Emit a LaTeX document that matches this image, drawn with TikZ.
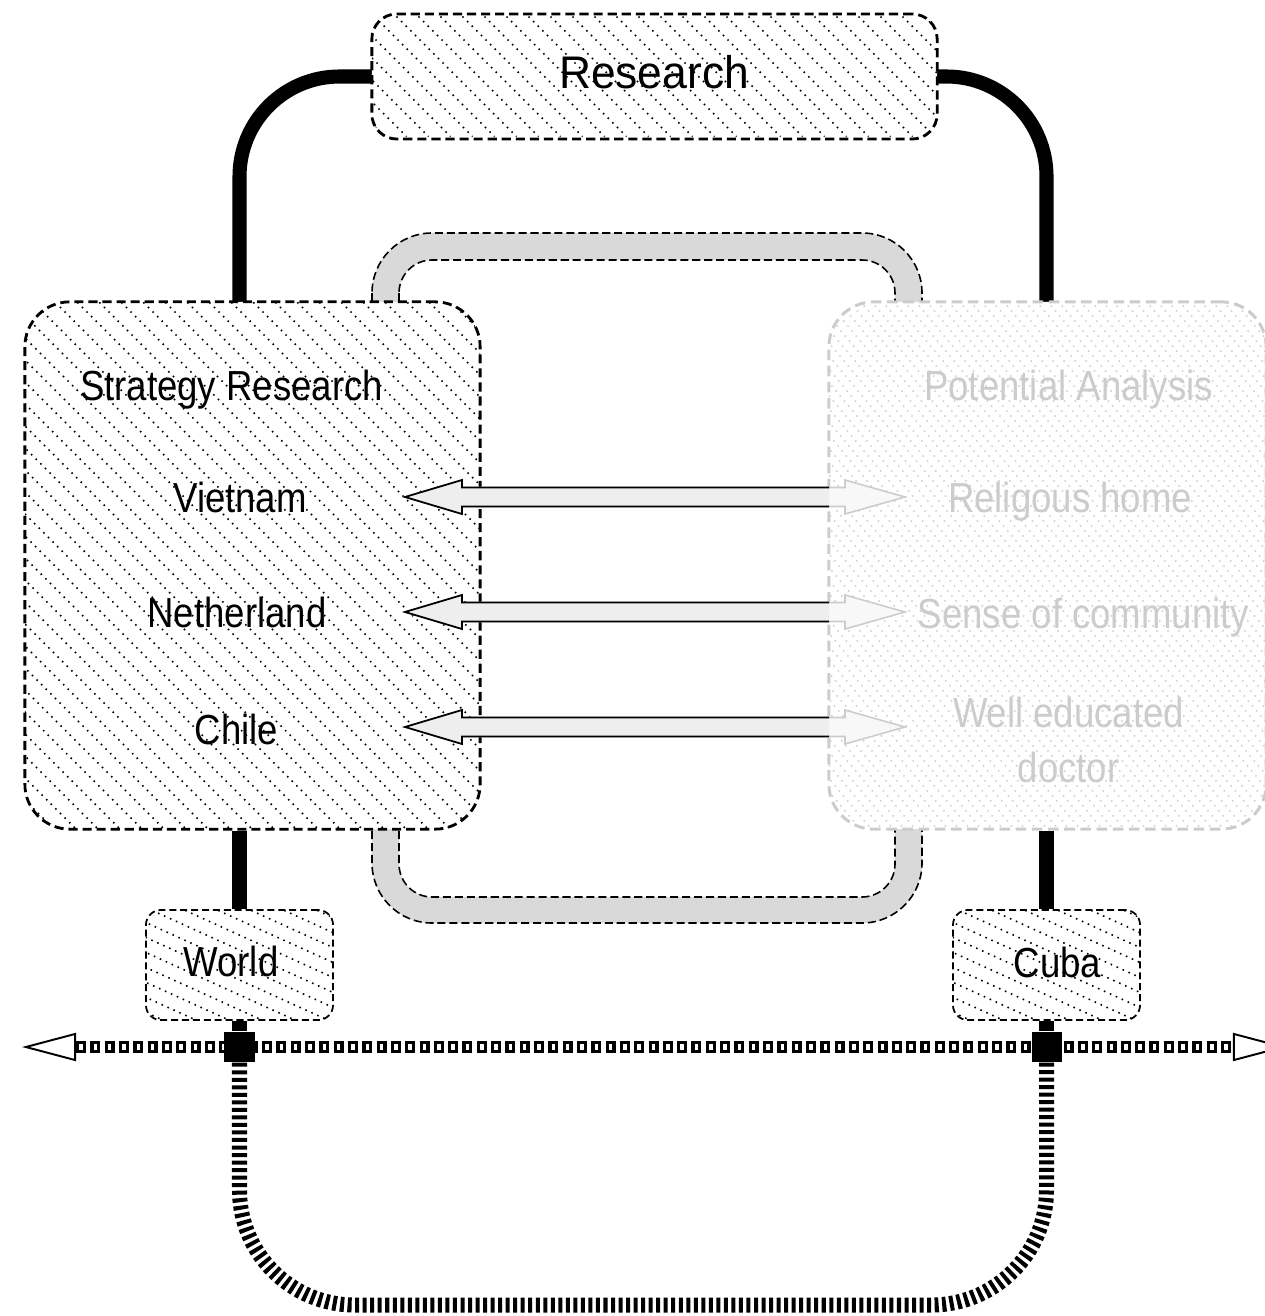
\documentclass[tikz,border=0pt]{standalone}
\usepackage{fontspec}
\setmainfont{Liberation Sans}
\newfontfamily\lblfont{Liberation Sans}[FakeStretch=0.87]
\newfontfamily\resfont{Liberation Sans}[FakeStretch=0.97]
\usetikzlibrary{arrows.meta,calc}
\definecolor{ltgray}{HTML}{CCCCCC}
\definecolor{hatchgray}{HTML}{D2D2D2}
\definecolor{bandgray}{HTML}{D9D9D9}
\definecolor{arrdark}{HTML}{EEEEEE}
\definecolor{arrlight}{HTML}{F8F8F8}
\tikzset{
  hatch/.style n args={4}{path picture={\foreach \k in {-70,...,70}{\draw[#4, line width=0.45pt, dash pattern=on 0.45pt off 1.4pt] ([shift={(\k*#1,0)}]path picture bounding box.center) ++(-#2,-#3) -- ++(2*#2,2*#3);}}},
  bigbox/.style={draw, line width=0.8pt, dash pattern=on 2.6pt off 1.4pt, fill=white, inner sep=0pt},
  smallbox/.style={draw, line width=0.5pt, dash pattern=on 2pt off 1.1pt, fill=white, inner sep=0pt, minimum width=1.87cm, minimum height=1.1cm, rounded corners=0.15cm, hatch={33}{150}{68}{black}},
  lbl/.style={font=\lblfont\fontsize{11.95pt}{15.4pt}\selectfont, inner sep=0pt, anchor=base},
  lblgray/.style={lbl, text=ltgray},
  conn/.style={line width=4pt, rounded corners=1cm},
  bandline/.style={line width=0.45pt, dash pattern=on 2.3pt off 1.1pt},
  sq/.style={fill=black, minimum size=0.3cm, inner sep=0pt},
}
\newcommand\dblarrowpath[2]{(#1) -- ($(#1)+(57,-17)$) -- ($(#1)+(57,-9.5)$) -- ($(#2)+(-60,-9.5)$) -- ($(#2)+(-60,-17)$) -- (#2) -- ($(#2)+(-60,17)$) -- ($(#2)+(-60,9.5)$) -- ($(#1)+(57,9.5)$) -- ($(#1)+(57,17)$) -- cycle}
\begin{document}
\begin{tikzpicture}[x=0.01cm,y=-0.01cm]
\useasboundingbox (0,0) rectangle (1264,1316);

% grey loop band
\fill[bandgray, even odd rule] [rounded corners=0.6cm] (372,233) rectangle (922,923) [rounded corners=0.33cm] (399,260) rectangle (895,897);
\draw[bandline] [rounded corners=0.6cm] (372,233) rectangle (922,923);
\draw[bandline] [rounded corners=0.33cm] (399,260) rectangle (895,897);

% box nodes
\node[smallbox] (world) at (239.5,965) {};
\node[smallbox] (cuba) at (1046.5,965) {};
\coordinate (stratc) at (252.5,565.5);
\coordinate (potc) at (1047.5,565.5);
\coordinate (resc) at (654.5,76.5);

% connectors (under boxes)
\draw[conn] (resc) ++(-282.5,0) coordinate (rw) -| (239.5,302) coordinate (stl);
\draw[conn] (resc) ++(282.5,0) coordinate (re) -| (1046.5,302) coordinate (ptr);

\node[bigbox, hatch={22}{60}{60}{black}, minimum width=5.65cm, minimum height=1.25cm, rounded corners=0.25cm] (research) at (resc) {};
\node[bigbox, hatch={22}{300}{300}{black}, minimum width=4.55cm, minimum height=5.27cm, rounded corners=0.45cm] (strat) at (stratc) {};
\node[bigbox, draw=ltgray, line width=0.85pt, dash pattern=on 3pt off 1.6pt, hatch={11}{250}{300}{hatchgray}, minimum width=4.37cm, minimum height=5.27cm, rounded corners=0.45cm] (pot) at (potc) {};

\draw[line width=4pt] (strat.south -| world.north) -- (world.north);
\draw[line width=4pt] (pot.south -| cuba.north) -- (cuba.north);

% double block arrows
\foreach \r/\yy in {1/497,2/612,3/727}{
  \coordinate (aL\r) at (405,\yy);
  \coordinate (aR\r) at (905,\yy);
}
\foreach \r in {1,2,3}{
  \filldraw[fill=arrlight, draw=ltgray, line width=0.45pt] \dblarrowpath{aL\r}{aR\r};
}
\begin{scope}
  \clip (0,0) rectangle (829,1316);
  \foreach \r in {1,2,3}{
    \filldraw[fill=arrdark, draw=black, line width=0.5pt] \dblarrowpath{aL\r}{aR\r};
  }
\end{scope}

% horizontal axis
\coordinate (axL) at (22,1047);
\coordinate (axLb) at (76,1047);
\coordinate (axRb) at (1233,1047);
\coordinate (axR) at (1287,1047);
\draw[line width=3.41pt, dash pattern=on 2.85pt off 1.22pt] (axLb) -- (axRb);
\draw[white, line width=1.71pt, dash pattern=on 1pt off 3.07pt, dash phase=3.14pt] (axLb) -- (axRb);
\draw[line width=0.55pt, -{Triangle[open, length=0.54cm, width=0.28cm]}] (axLb) -- (axL);
\draw[line width=0.55pt, -{Triangle[open, length=0.54cm, width=0.28cm]}] (axRb) -- (axR);

\node[sq] (sqL) at (239.5,1047) {};
\node[sq] (sqR) at (1046.5,1047) {};
\draw[line width=4.3pt] (world.south) -- (sqL.north);
\draw[line width=4.3pt] (cuba.south) -- (sqR.north);

% bottom striped loop
\coordinate (bot) at (640,1305);
\draw[line width=4.27pt, dash pattern=on 1.14pt off 1pt, rounded corners=1.15cm] (sqL.south) -- (sqL.south |- bot) -- (sqR.south |- bot) -- (sqR.south);

% labels
\node[font=\resfont\fontsize{13pt}{15pt}\selectfont, inner sep=0pt, anchor=base] (tres) at (654,89) {Research};
\node[lbl] (tstrat) at (231.5,401) {Strategy Research};
\node[lbl] (tviet) at (240,512) {Vietnam};
\node[lbl] (tneth) at (237,627) {Netherland};
\node[lbl] (tchile) at (236.5,744) {Chile};
\node[lblgray] (tpot) at (1068.5,401) {Potential Analysis};
\node[lblgray] (trel) at (1070,512) {Religous home};
\node[lblgray] (tsense) at (1083.5,628) {Sense of community};
\node[lblgray, anchor=center, align=center] (twell) at (1068.5,740) {Well educated\\doctor};
\node[lbl] (tworld) at (231,976) {World};
\node[lbl] (tcuba) at (1057.5,977) {Cuba};
\end{tikzpicture}
\end{document}
